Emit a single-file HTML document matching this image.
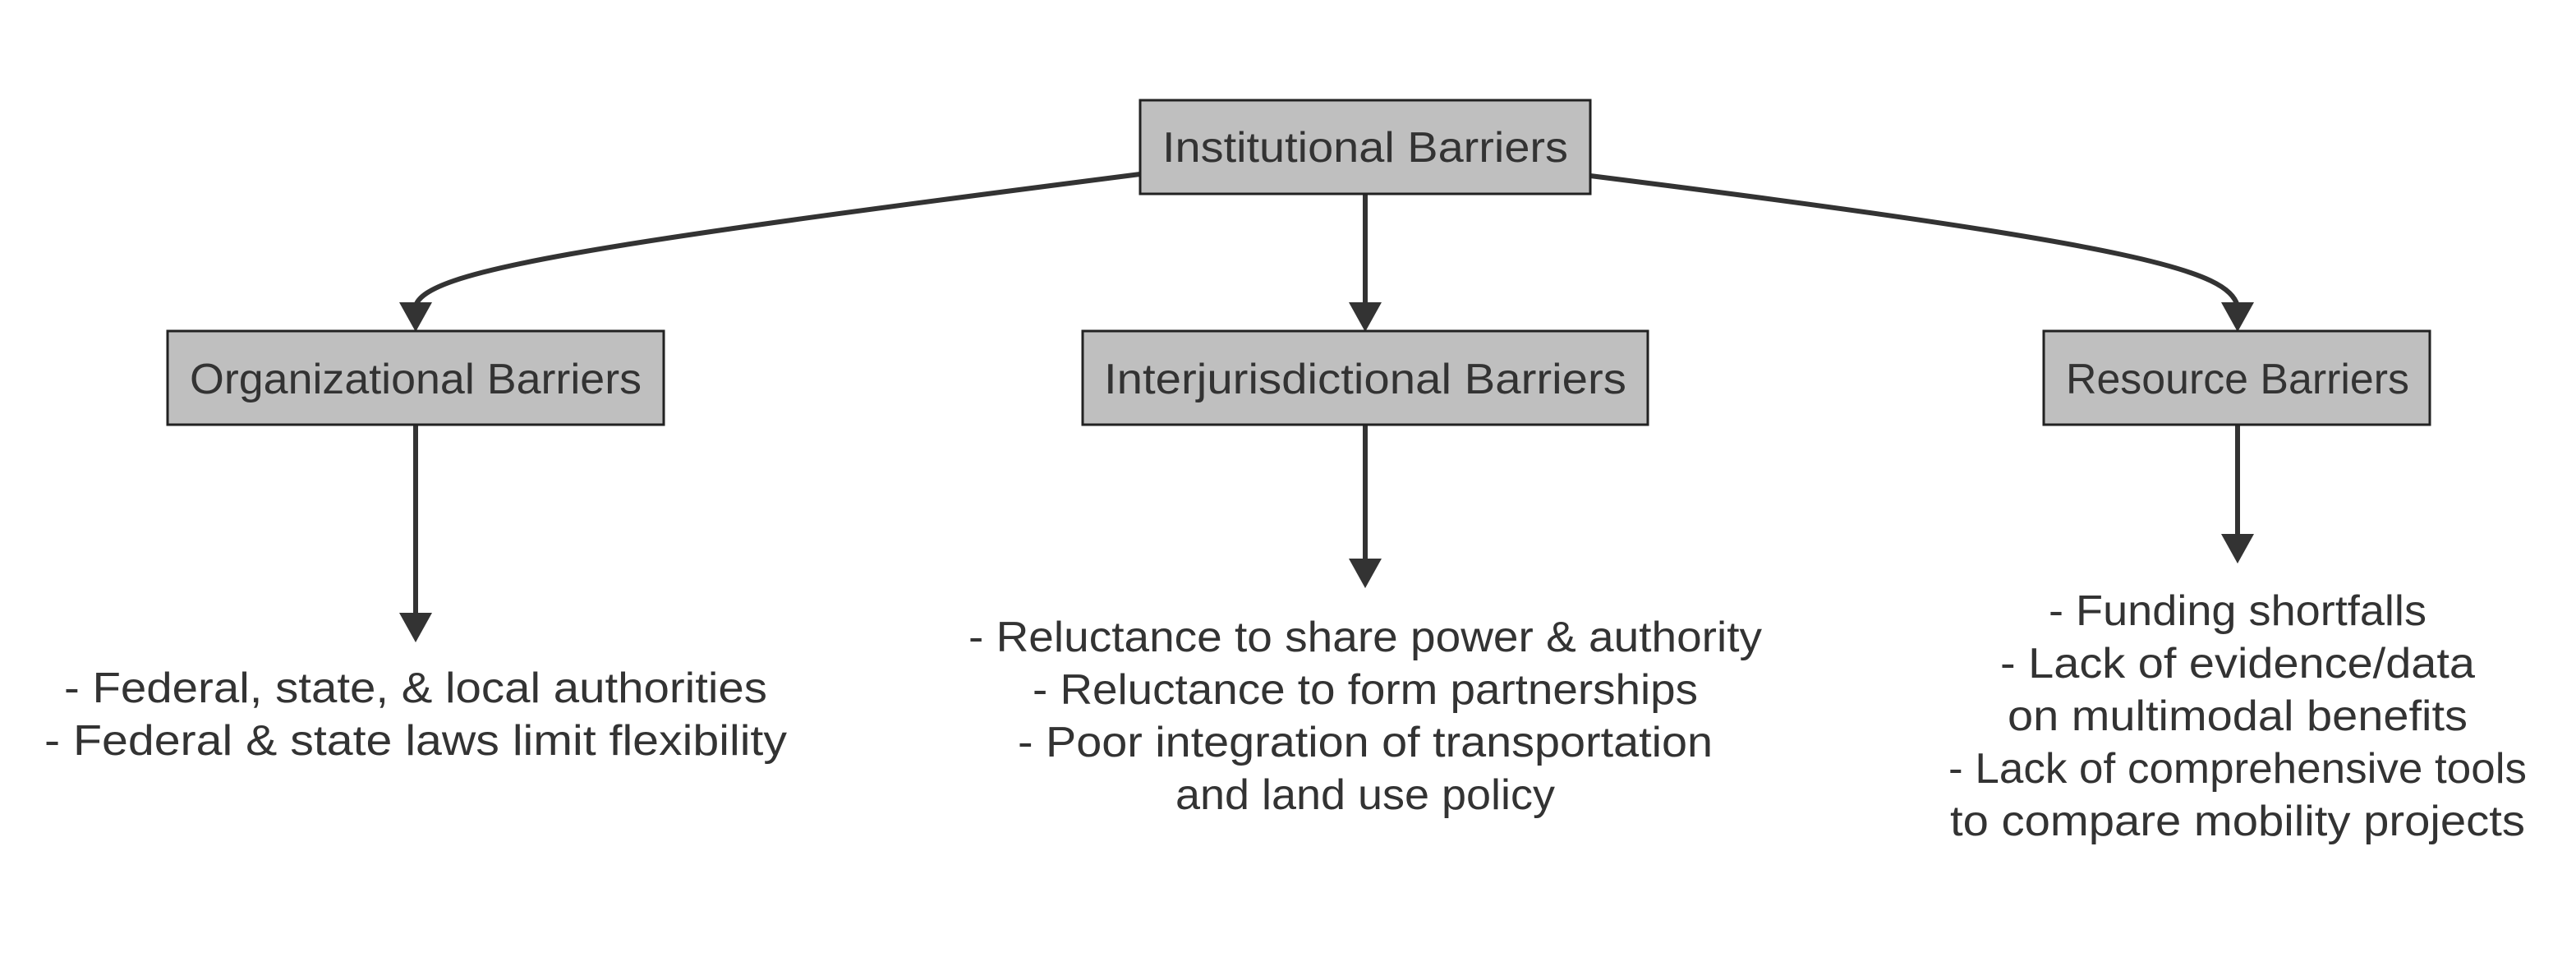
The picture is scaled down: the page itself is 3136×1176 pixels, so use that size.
<!DOCTYPE html>
<html><head><meta charset="utf-8"><style>
html,body{margin:0;padding:0;background:#fff;}
svg{display:block;}
text{font-family:"Liberation Sans",sans-serif;fill:#333;font-size:52px;text-anchor:middle;}
</style></head><body>
<svg width="3136" height="1176" viewBox="0 0 3136 1176" xmlns="http://www.w3.org/2000/svg">
<g stroke="#333" stroke-width="6" fill="none">
<path d="M1388,212 C 700,300 520,330 506,372"/>
<path d="M1936,214 C 2620,300 2710,330 2724,372"/>
<path d="M1662,236 L1662,372"/>
<path d="M506,518 L506,750"/>
<path d="M1662,518 L1662,684"/>
<path d="M2724,518 L2724,654"/>
</g>
<g fill="#333">
<polygon points="486,368 526,368 506,404"/>
<polygon points="2704,368 2744,368 2724,404"/>
<polygon points="1642,368 1682,368 1662,404"/>
<polygon points="486,746 526,746 506,782"/>
<polygon points="1642,680 1682,680 1662,716"/>
<polygon points="2704,650 2744,650 2724,686"/>
</g>
<g fill="#bfbfbf" stroke="#222" stroke-width="3">
<rect x="1388" y="122" width="548" height="114"/>
<rect x="204" y="403" width="604" height="114"/>
<rect x="1318" y="403" width="688" height="114"/>
<rect x="2488" y="403" width="470" height="114"/>
</g>
<text x="1662" y="197" textLength="494" lengthAdjust="spacingAndGlyphs">Institutional Barriers</text>
<text x="506" y="479" textLength="550" lengthAdjust="spacingAndGlyphs">Organizational Barriers</text>
<text x="1662" y="479" textLength="636" lengthAdjust="spacingAndGlyphs">Interjurisdictional Barriers</text>
<text x="2724" y="479" textLength="418" lengthAdjust="spacingAndGlyphs">Resource Barriers</text>

<text x="506" y="855" textLength="856" lengthAdjust="spacingAndGlyphs">- Federal, state, &amp; local authorities</text>
<text x="506" y="919" textLength="904" lengthAdjust="spacingAndGlyphs">- Federal &amp; state laws limit flexibility</text>

<text x="1662" y="793" textLength="966" lengthAdjust="spacingAndGlyphs">- Reluctance to share power &amp; authority</text>
<text x="1662" y="857" textLength="810" lengthAdjust="spacingAndGlyphs">- Reluctance to form partnerships</text>
<text x="1662" y="921" textLength="846" lengthAdjust="spacingAndGlyphs">- Poor integration of transportation</text>
<text x="1662" y="985" textLength="462" lengthAdjust="spacingAndGlyphs">and land use policy</text>

<text x="2724" y="761" textLength="460" lengthAdjust="spacingAndGlyphs">- Funding shortfalls</text>
<text x="2724" y="825" textLength="578" lengthAdjust="spacingAndGlyphs">- Lack of evidence/data</text>
<text x="2724" y="889" textLength="560" lengthAdjust="spacingAndGlyphs">on multimodal benefits</text>
<text x="2724" y="953" textLength="704" lengthAdjust="spacingAndGlyphs">- Lack of comprehensive tools</text>
<text x="2724" y="1017" textLength="700" lengthAdjust="spacingAndGlyphs">to compare mobility projects</text>
</svg>
</body></html>
